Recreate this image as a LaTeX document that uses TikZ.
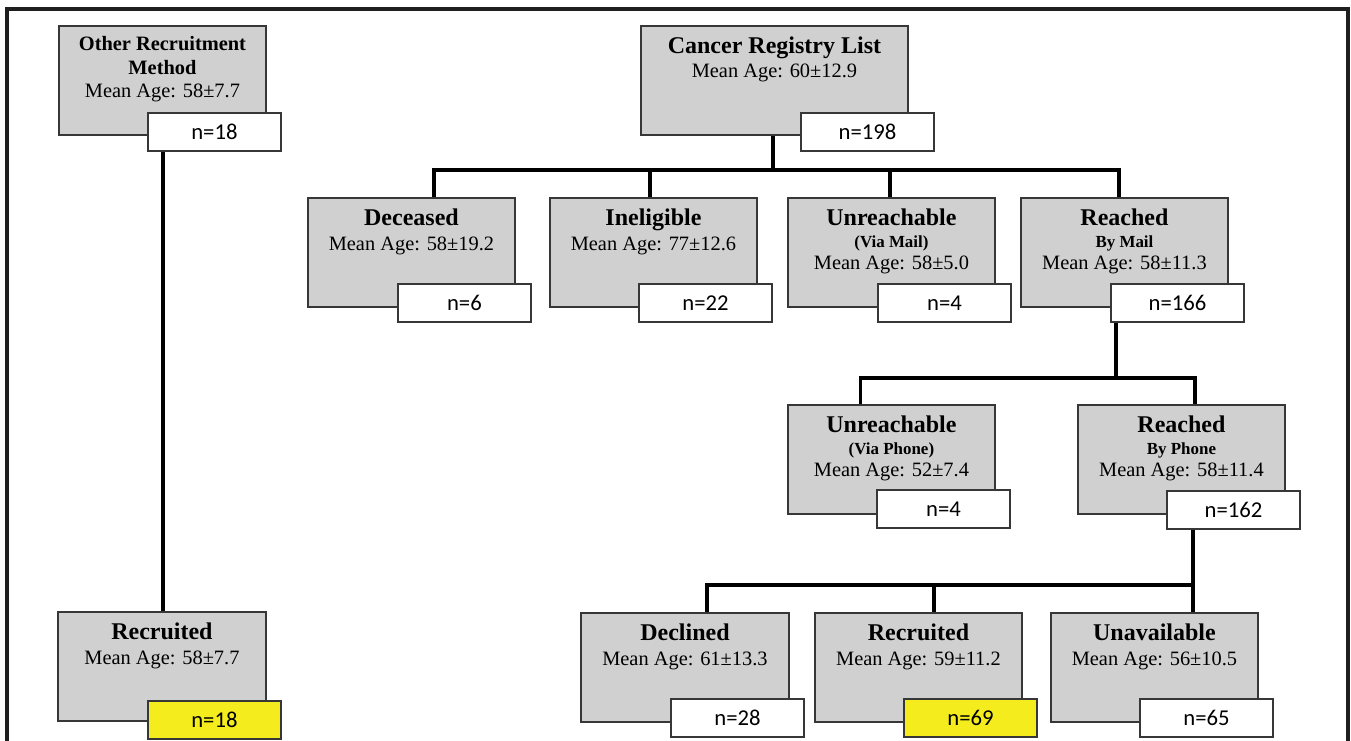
\documentclass[tikz,border=0pt]{standalone}
\usepackage{fontspec}
\setmainfont{Liberation Serif}
\newfontfamily\calibfont{Carlito}
\definecolor{boxgray}{RGB}{208,208,208}
\definecolor{boxline}{RGB}{55,55,55}
\definecolor{nyellow}{RGB}{244,236,28}
\begin{document}
\begin{tikzpicture}[x=0.75pt,y=-0.75pt,
  gbox/.style={draw=boxline, line width=1.4pt, fill=boxgray, anchor=north west, inner sep=0pt, minimum width=155.25pt, minimum height=81.75pt},
  nbox/.style={draw=boxline, line width=1.4pt, fill=white, anchor=north west, inner sep=0pt, minimum width=99.75pt, minimum height=28.5pt, font=\calibfont\fontsize{17}{20}\selectfont},
  ttl/.style={anchor=base, inner sep=0pt, font=\bfseries\fontsize{18}{20}\selectfont},
  ttlsmall/.style={anchor=base, inner sep=0pt, font=\bfseries\fontsize{15.3}{17}\selectfont},
  sub/.style={anchor=base, inner sep=0pt, font=\bfseries\fontsize{12.7}{14}\selectfont},
  age/.style={anchor=base, inner sep=0pt, font=\fontsize{15.3}{17}\selectfont},
  conn/.style={line width=2.6pt, draw=black},
  frameline/.style={line width=2.3pt, draw=black!88}
]
\useasboundingbox (0,0) rectangle (1351,740);
\draw[frameline] (7,742) -- (7,9) -- (1348,9) -- (1348,742);

% ---- left column
\node[gbox] (oth) at (58,25) {};
\node[ttlsmall] (oth-a) at ([yshift=-18.75pt]oth.north) {Other Recruitment};
\node[ttlsmall] (oth-b) at ([yshift=-36.75pt]oth.north) {Method};
\node[age] (oth-c) at ([yshift=-54pt]oth.north) {Mean Age: 58±7.7};
\node[nbox] (oth-n) at (147,112) {n=18};

\node[gbox, minimum width=156pt] (rec) at (57,611) {};
\node[ttl] (rec-a) at ([yshift=-21pt]rec.north) {Recruited};
\node[age] (rec-c) at ([yshift=-39.75pt]rec.north) {Mean Age: 58±7.7};
\node[nbox, fill=nyellow] (rec-n) at (147,700) {n=18};

% ---- top
\node[gbox, minimum width=200.25pt] (can) at (640,25) {};
\node[ttl] (can-a) at ([yshift=-21pt]can.north) {Cancer Registry List};
\node[age] (can-c) at ([yshift=-39pt]can.north) {Mean Age: 60±12.9};
\node[nbox] (can-n) at (800,112) {n=198};

% ---- row 1
\node[gbox] (dec) at (307,197) {};
\node[ttl] (dec-a) at ([yshift=-21pt]dec.north) {Deceased};
\node[age] (dec-c) at ([yshift=-39.75pt]dec.north) {Mean Age: 58±19.2};
\node[nbox] (dec-n) at (397,283) {n=6};

\node[gbox] (ine) at (549,197) {};
\node[ttl] (ine-a) at ([yshift=-21pt]ine.north) {Ineligible};
\node[age] (ine-c) at ([yshift=-39.75pt]ine.north) {Mean Age: 77±12.6};
\node[nbox] (ine-n) at (638,283) {n=22};

\node[gbox] (unm) at (787,197) {};
\node[ttl] (unm-a) at ([yshift=-21pt]unm.north) {Unreachable};
\node[sub] (unm-b) at ([yshift=-37.5pt]unm.north) {(Via Mail)};
\node[age] (unm-c) at ([yshift=-54pt]unm.north) {Mean Age: 58±5.0};
\node[nbox] (unm-n) at (877,283) {n=4};

\node[gbox] (rem) at (1020,197) {};
\node[ttl] (rem-a) at ([yshift=-21pt]rem.north) {Reached};
\node[sub] (rem-b) at ([yshift=-37.5pt]rem.north) {By Mail};
\node[age] (rem-c) at ([yshift=-54pt]rem.north) {Mean Age: 58±11.3};
\node[nbox] (rem-n) at (1110,283) {n=166};

% ---- row 2
\node[gbox] (unp) at (787,404) {};
\node[ttl] (unp-a) at ([yshift=-21pt]unp.north) {Unreachable};
\node[sub] (unp-b) at ([yshift=-37.5pt]unp.north) {(Via Phone)};
\node[age] (unp-c) at ([yshift=-54pt]unp.north) {Mean Age: 52±7.4};
\node[nbox] (unp-n) at (876,489) {n=4};

\node[gbox] (rep) at (1077,404) {};
\node[ttl] (rep-a) at ([yshift=-21pt]rep.north) {Reached};
\node[sub] (rep-b) at ([yshift=-37.5pt]rep.north) {By Phone};
\node[age] (rep-c) at ([yshift=-54pt]rep.north) {Mean Age: 58±11.4};
\node[nbox] (rep-n) at (1166,490) {n=162};

% ---- row 3
\node[gbox, minimum width=156pt] (decl) at (580,612) {};
\node[ttl] (decl-a) at ([yshift=-21pt]decl.north) {Declined};
\node[age] (decl-c) at ([yshift=-39.75pt]decl.north) {Mean Age: 61±13.3};
\node[nbox] (decl-n) at (670,698) {n=28};

\node[gbox] (recr) at (814,612) {};
\node[ttl] (recr-a) at ([yshift=-21pt]recr.north) {Recruited};
\node[age] (recr-c) at ([yshift=-39.75pt]recr.north) {Mean Age: 59±11.2};
\node[nbox, fill=nyellow] (recr-n) at (903,698) {n=69};

\node[gbox] (una) at (1050,612) {};
\node[ttl] (una-a) at ([yshift=-21pt]una.north) {Unavailable};
\node[age] (una-c) at ([yshift=-39.75pt]una.north) {Mean Age: 56±10.5};
\node[nbox] (una-n) at (1139,698) {n=65};

% ---- connectors
\coordinate (bus1) at (0,170);
\coordinate (bus2) at (0,378);
\coordinate (bus3) at (0,585);
\coordinate (can-out) at ([xshift=-1.1pt]can.south);
\coordinate (dec-in) at ([xshift=16.9pt]dec.north);
\coordinate (ine-in) at ([xshift=-2.6pt]ine.north);
\coordinate (unm-in) at ([xshift=-1.1pt]unm.north);
\coordinate (rem-in) at ([xshift=-4.1pt]rem.north);
\draw[conn] (can-out) -- (can-out |- bus1);
\draw[conn] (dec-in) -- (dec-in |- bus1) -- (rem-in |- bus1) -- (rem-in);
\draw[conn] (ine-in) -- (ine-in |- bus1);
\draw[conn] (unm-in) -- (unm-in |- bus1);

\coordinate (rem-out) at ([xshift=4.5pt]rem-n.south west);
\coordinate (unp-in) at ([xshift=-23.25pt]unp.north);
\coordinate (rep-in) at ([xshift=10.1pt]rep.north);
\draw[conn] (rem-out) -- (rem-out |- bus2);
\draw[conn] (unp-in) -- (unp-in |- bus2) -- (rep-in |- bus2) -- (rep-in);

\coordinate (rep-out) at ([xshift=20.25pt]rep-n.south west);
\coordinate (decl-in) at ([xshift=16.5pt]decl.north);
\coordinate (recr-in) at ([xshift=11.6pt]recr.north);
\draw[conn] (rep-out) -- (rep-out |- una.north);
\draw[conn] (decl-in) -- (decl-in |- bus3) -- (rep-out |- bus3);
\draw[conn] (recr-in) -- (recr-in |- bus3);

\coordinate (oth-out) at ([xshift=12pt]oth-n.south west);
\draw[conn] (oth-out) -- (oth-out |- rec.north);
\end{tikzpicture}
\end{document}
